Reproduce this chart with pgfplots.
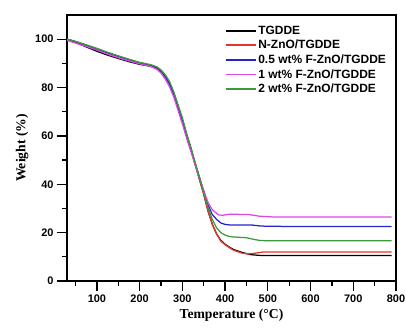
\documentclass[border=0pt]{standalone}
\usepackage{pgfplots}
\pgfplotsset{compat=1.18}
\usepackage{fontspec}
\setmainfont{Liberation Serif}
\setsansfont{Liberation Sans}
\definecolor{cred}{HTML}{E8342C}
\definecolor{cblue}{HTML}{2323D2}
\definecolor{cmag}{HTML}{E044E6}
\definecolor{cgreen}{HTML}{3C9A3C}
\begin{document}
\begin{tikzpicture}
\path[use as bounding box] (-67bp,-51bp) rectangle (339bp,281bp);
\begin{axis}[
  scale only axis, width=329bp, height=266bp,
  xmin=30, xmax=800, ymin=0, ymax=110,
  xtick={100,200,...,800}, ytick={0,20,...,100},
  minor xtick={50,150,...,750}, minor ytick={10,30,...,90},
  tick align=outside, xtick pos=bottom, ytick pos=left,
  major tick length=10bp, minor tick length=5bp,
  axis line style={line width=1.3bp}, every tick/.style={line width=1.2bp, black},
  tick label style={font=\sffamily\bfseries\fontsize{11}{12}\selectfont},
  /pgf/number format/assume math mode=true,
  xlabel={\bfseries Temperature (°C)}, ylabel={\bfseries Weight (\%)},
  label style={font=\rmfamily\bfseries\fontsize{13.7}{15}\selectfont},
  every axis plot/.append style={line width=1.25bp, mark=none},
  legend style={draw=none, fill=none, at={(rel axis cs:0.985,0.975)}, anchor=north east,
    font=\sffamily\bfseries\fontsize{12}{14}\selectfont, row sep=0.5bp},
  legend cell align=left,
  legend image code/.code={\draw[#1, line width=1.5bp] (0bp,0bp) -- (30bp,0bp);},
]
\addplot[color=black] coordinates {(30,100)(50,98.6)(75,96.8)(100,95)(125,93.4)(150,92)(175,90.7)(200,89.6)(225,88.8)(240,87.9)(250,86.7)(260,84.5)(270,81.5)(280,77.3)(290,72)(300,66.5)(310,60.3)(320,54.5)(330,48.3)(340,42)(350,36)(360,29)(370,23.5)(380,19.5)(390,16.8)(400,15.2)(410,14)(420,13)(440,11.8)(460,10.9)(480,10.6)(500,10.5)(790,10.5)};
\addlegendentry{TGDDE}
\addplot[color=cred] coordinates {(30,100)(50,99)(75,97.5)(100,96)(125,94.4)(150,93)(175,91.6)(200,90.3)(225,89.3)(240,88.3)(250,87)(260,84.7)(270,81.7)(280,77.5)(290,72.2)(300,66.7)(310,60.5)(320,54.7)(330,48.5)(340,42)(350,36)(360,29)(370,23.5)(380,19.5)(390,16.5)(400,15)(410,13.8)(420,12.7)(440,11.5)(455,11.2)(470,11.5)(490,12)(790,12)};
\addlegendentry{N-ZnO/TGDDE}
\addplot[color=cblue] coordinates {(30,100)(50,99)(75,97.4)(100,95.9)(125,94.3)(150,92.9)(175,91.5)(200,90.2)(225,89.2)(240,88.2)(250,86.8)(260,84.6)(270,81.6)(280,77.4)(290,72.2)(300,66.7)(310,60.5)(320,54.7)(330,48.6)(340,43)(350,37)(360,31.5)(370,27.5)(380,25.5)(390,24)(400,23.4)(410,23.2)(460,23.2)(480,22.8)(500,22.6)(790,22.5)};
\addlegendentry{0.5 wt\% F-ZnO/TGDDE}
\addplot[color=cmag] coordinates {(30,99.5)(50,98.4)(75,97)(100,95.5)(125,93.8)(150,92.3)(175,91)(200,89.8)(225,88.8)(240,87.6)(250,86)(260,83.5)(270,80.3)(280,76)(290,70.5)(300,65)(310,59)(320,53.5)(330,47.8)(340,42.5)(350,37.5)(360,32.5)(370,29.5)(380,28)(385,27.3)(395,27.2)(410,27.6)(455,27.5)(480,26.8)(510,26.5)(790,26.5)};
\addlegendentry{1 wt\% F-ZnO/TGDDE}
\addplot[color=cgreen] coordinates {(30,100)(50,99.1)(75,97.7)(100,96.2)(125,94.6)(150,93.1)(175,91.7)(200,90.4)(225,89.5)(240,88.6)(250,87.3)(260,85.3)(270,82.5)(280,78.2)(290,72.8)(300,67.5)(310,61)(320,55.3)(330,49)(340,42.8)(350,36.5)(360,30.5)(370,25.5)(380,22)(390,20)(400,19)(410,18.4)(420,18.2)(450,17.9)(465,17.3)(480,16.8)(500,16.6)(790,16.6)};
\addlegendentry{2 wt\% F-ZnO/TGDDE}
\end{axis}
\end{tikzpicture}
\end{document}
